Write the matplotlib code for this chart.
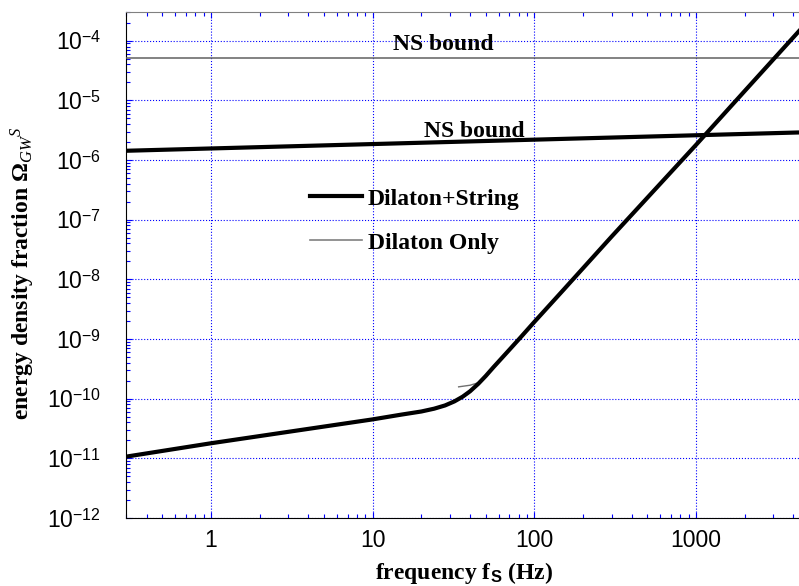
import matplotlib
matplotlib.use("Agg")
import matplotlib.pyplot as plt
from matplotlib.lines import Line2D
from matplotlib.ticker import FixedLocator, FixedFormatter, LogLocator, NullFormatter
import numpy as np

plt.rcParams['mathtext.fontset'] = 'custom'
plt.rcParams['mathtext.rm'] = 'Liberation Sans'
plt.rcParams['mathtext.it'] = 'Liberation Serif:italic'
plt.rcParams['mathtext.bf'] = 'Liberation Sans:bold'

# Dilaton+String spectrum
f_full = [0.3, 1, 3, 10, 15, 20, 24, 28, 32, 36, 40, 45, 50, 56, 62, 70, 82,
          100, 150, 300, 1000, 2000, 4330]
om_full = [1.07e-11, 1.79e-11, 2.78e-11, 4.5e-11, 5.4e-11, 6.1e-11, 6.8e-11, 7.7e-11,
           9.0e-11, 1.08e-10, 1.33e-10, 1.78e-10, 2.4e-10, 3.4e-10, 4.6e-10, 6.6e-10,
           1.06e-9, 1.94e-9, 6.5e-9, 5.2e-8, 1.8e-6, 1.44e-5, 1.45e-4]

# Dilaton only (starts near the knee)
f_dil = [34, 40, 45, 50, 56, 62, 70, 82, 100, 150, 300, 1000, 2000, 4330]
om_dil = [1.58e-10, 1.68e-10, 1.85e-10, 2.4e-10, 3.4e-10, 4.6e-10, 6.6e-10, 1.06e-9,
          1.94e-9, 6.5e-9, 5.2e-8, 1.8e-6, 1.44e-5, 1.45e-4]

# NS bounds
f_ns = [0.298, 4330]
om_ns_flat = [5.1e-5, 5.1e-5]
om_ns_slope = [1.43e-6, 2.9e-6]

x_ticks = [1, 10, 100, 1000]
x_labels = ['1', '10', '100', '1000']
y_exps = [-12, -11, -10, -9, -8, -7, -6, -5, -4]

serif = 'Liberation Serif'
fs = 17

fig = plt.figure(figsize=(7.99, 5.86), dpi=100)
ax = fig.add_axes([126/799, 68/586, 673/799, 506/586])

ax.plot(f_ns, om_ns_flat, color='#606060', lw=1.1, zorder=3)
ax.plot(f_ns, om_ns_slope, color='black', lw=3.0, zorder=3)
ax.plot(f_dil, om_dil, color='#707070', lw=1.0, zorder=3)
ax.plot(f_full, om_full, color='black', lw=3.0, zorder=4, solid_joinstyle='round')

ax.set_xscale('log')
ax.set_yscale('log')
ax.set_xlim(0.298, 4330)
ax.set_ylim(1e-12, 3.03e-4)

ax.xaxis.set_major_locator(FixedLocator(x_ticks))
ax.xaxis.set_major_formatter(FixedFormatter(x_labels))
ax.xaxis.set_minor_locator(LogLocator(base=10, subs=np.arange(2, 10)))
ax.xaxis.set_minor_formatter(NullFormatter())
ax.yaxis.set_major_locator(FixedLocator([10.0**e for e in y_exps]))
ax.yaxis.set_major_formatter(FixedFormatter([r'$10^{%d}$' % e for e in y_exps]))
ax.yaxis.set_minor_locator(LogLocator(base=10, subs=np.arange(2, 10), numticks=20))
ax.yaxis.set_minor_formatter(NullFormatter())

ax.tick_params(which='both', direction='in', color='blue', top=True, right=False, width=0.8)
ax.tick_params(which='major', length=4)
ax.tick_params(which='minor', length=3)
ax.tick_params(axis='x', which='major', pad=8, labelsize=16.5)
ax.tick_params(axis='y', which='major', pad=18, labelsize=16.5)
for lab in ax.get_xticklabels() + ax.get_yticklabels():
    lab.set_family('Liberation Sans')

ax.grid(True, which='major', color='blue', linestyle=':', linewidth=0.8)

ax.spines['right'].set_visible(False)
ax.spines['top'].set_color('#808080')
ax.spines['left'].set_color('black')
ax.spines['bottom'].set_color('black')

ax.text(13.3, 6.98e-5, 'NS bound', family=serif, weight='bold', fontsize=fs, va='baseline')
ax.text(20.8, 2.42e-6, 'NS bound', family=serif, weight='bold', fontsize=fs, va='baseline')

handles = [Line2D([], [], color='black', lw=3.0),
           Line2D([], [], color='#808080', lw=1.2)]
ax.legend(handles, ['Dilaton+String', 'Dilaton Only'], loc='upper left',
          bbox_to_anchor=(0.2734, 0.652), frameon=False, borderpad=0, borderaxespad=0,
          handlelength=2.2, handletextpad=0.25, labelspacing=0.95,
          prop={'family': serif, 'weight': 'bold', 'size': fs})

ax.set_xlabel(r'frequency f$_\mathbf{S}$ (Hz)', family=serif, weight='bold', fontsize=fs)
ax.xaxis.set_label_coords(0.502, -0.083)
ax.set_ylabel(r'energy density fraction Ω$_{GW}{}^{S}$', family=serif, weight='bold', fontsize=fs)
ax.yaxis.set_label_coords(-0.132, 0.484)

fig.savefig('out.png', dpi=100)
